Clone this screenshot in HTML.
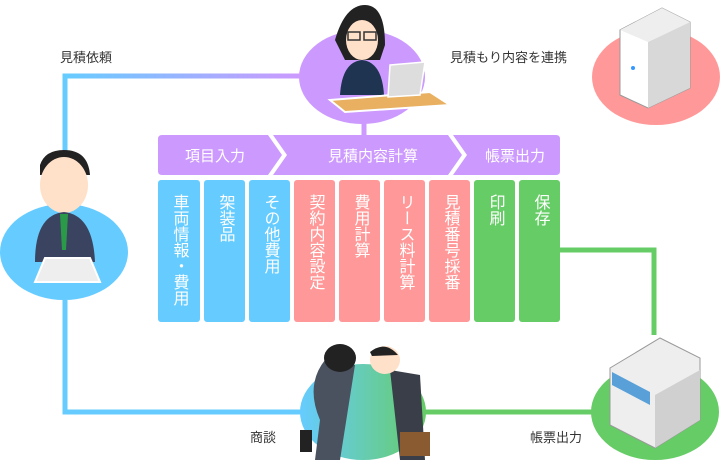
<!DOCTYPE html>
<html><head><meta charset="utf-8"><style>
html,body{margin:0;padding:0;background:#fff;}
svg{display:block;font-family:"Liberation Sans","Noto Sans CJK JP",sans-serif;}
</style></head><body>
<svg width="720" height="474" viewBox="0 0 720 474" xmlns="http://www.w3.org/2000/svg">
<defs>
<linearGradient id="g1" x1="0" x2="1"><stop offset="0" stop-color="#66ccff"/><stop offset="1" stop-color="#cc99ff"/></linearGradient>
<linearGradient id="g2" x1="0" x2="1"><stop offset="0" stop-color="#cc99ff"/><stop offset="1" stop-color="#ff9999"/></linearGradient>
<linearGradient id="g3" x1="0" x2="1"><stop offset="0" stop-color="#66ccff"/><stop offset="1" stop-color="#66cc66"/></linearGradient>
</defs>
<path d="M65 205 V76 H300" fill="none" stroke="url(#g1)" stroke-width="5"/>
<path d="M425 76 H600" fill="none" stroke="url(#g2)" stroke-width="5"/>
<path d="M65 300 V412 H305" fill="none" stroke="#66ccff" stroke-width="5"/>
<path d="M420 412 H600" fill="none" stroke="#66cc66" stroke-width="5"/>
<path d="M560 250 H654 V335" fill="none" stroke="#66cc66" stroke-width="5"/>
<path d="M364 120 V135" fill="none" stroke="#cc99ff" stroke-width="5"/>
<ellipse cx="362" cy="77" rx="63" ry="47" fill="#cc99ff"/>
<ellipse cx="656" cy="77" rx="64" ry="48" fill="#ff9999"/>
<ellipse cx="64" cy="252" rx="64" ry="48" fill="#66ccff"/>
<ellipse cx="655" cy="412" rx="64" ry="48" fill="#66cc66"/>
<ellipse cx="363" cy="412" rx="63" ry="48" fill="url(#g3)"/>
<path d="M620 30 L662 8 L690 22 L690 88 L648 108 L620 95 Z" fill="#fff" stroke="#999" stroke-width="1"/>
<path d="M648 42 L690 22 L690 88 L648 108 Z" fill="#d8d8d8"/>
<path d="M620 30 L662 8 L690 22 L648 42 Z" fill="#eee"/>
<circle cx="633" cy="68" r="2" fill="#39f"/>
<path d="M610 368 L660 338 L700 358 L700 420 L655 448 L610 425 Z" fill="#eee" stroke="#999"/>
<path d="M612 372 L650 392 L650 405 L612 385 Z" fill="#5aa0d8"/>
<path d="M655 395 L700 370 L700 420 L655 448 Z" fill="#d0d0d0"/>
<path d="M335 40 Q345 5 365 5 Q385 5 385 45 L380 60 L345 60 Z" fill="#222"/>
<ellipse cx="362" cy="40" rx="16" ry="20" fill="#ffe0c8"/>
<rect x="348" y="32" width="12" height="8" fill="none" stroke="#333" stroke-width="1.5"/>
<rect x="364" y="32" width="12" height="8" fill="none" stroke="#333" stroke-width="1.5"/>
<path d="M340 95 Q342 62 362 60 Q382 62 384 95 Z" fill="#1e3450"/>
<path d="M330 100 L430 92 L450 105 L345 112 Z" fill="#e8b060" stroke="#fff" stroke-width="2"/>
<path d="M390 65 L425 62 L420 95 L388 97 Z" fill="#ddd" stroke="#fff" stroke-width="1.5"/>
<path d="M40 165 Q45 150 64 150 Q88 150 90 175 L40 175 Z" fill="#222"/>
<ellipse cx="64" cy="185" rx="24" ry="28" fill="#ffe0c8"/>
<path d="M35 262 Q35 215 64 212 Q93 215 95 262 Z" fill="#3a4460"/>
<path d="M60 214 L68 214 L66 250 L62 250 Z" fill="#2a9a48"/>
<path d="M35 282 L45 258 L90 258 L100 282 Z" fill="#eee" stroke="#fff" stroke-width="2"/>
<path d="M320 420 Q305 385 325 360 L355 365 L340 460 L315 460 Z" fill="#4a5260"/>
<ellipse cx="340" cy="358" rx="16" ry="14" fill="#222"/>
<path d="M390 370 L420 375 L425 460 L400 460 Z" fill="#3a3e48"/>
<ellipse cx="385" cy="360" rx="15" ry="14" fill="#ffe0c8"/>
<path d="M370 352 Q385 340 398 355 L372 356 Z" fill="#222"/>
<rect x="400" y="432" width="30" height="24" fill="#8a5a30"/>
<rect x="300" y="430" width="12" height="22" fill="#222"/>
<path d="M162 135 H268 L282 155 L268 175 H162 Q158 175 158 171 V139 Q158 135 162 135 Z" fill="#cc99ff"/>
<path d="M273 135 H448 L462 155 L448 175 H273 L287 155 Z" fill="#cc99ff"/>
<path d="M453 135 H556 Q560 135 560 139 V171 Q560 175 556 175 H453 L467 155 Z" fill="#cc99ff"/>
<g fill="#fff" font-size="15" text-anchor="middle">
<text x="215" y="161">項目入力</text>
<text x="373" y="161">見積内容計算</text>
<text x="515" y="161">帳票出力</text>
</g>
<g>
<rect x="158" y="180" width="42" height="142" rx="3" fill="#66ccff"/>
<rect x="204" y="180" width="41" height="142" rx="3" fill="#66ccff"/>
<rect x="249" y="180" width="41" height="142" rx="3" fill="#66ccff"/>
<rect x="294" y="180" width="41" height="142" rx="3" fill="#ff9999"/>
<rect x="339" y="180" width="41" height="142" rx="3" fill="#ff9999"/>
<rect x="384" y="180" width="41" height="142" rx="3" fill="#ff9999"/>
<rect x="429" y="180" width="41" height="142" rx="3" fill="#ff9999"/>
<rect x="474" y="180" width="41" height="142" rx="3" fill="#66cc66"/>
<rect x="519" y="180" width="41" height="142" rx="3" fill="#66cc66"/>
</g>
<g fill="#fff" font-size="16" style="writing-mode:vertical-rl">
<text x="179" y="194">車両情報・費用</text>
<text x="225" y="194">架装品</text>
<text x="270" y="194">その他費用</text>
<text x="315" y="194">契約内容設定</text>
<text x="360" y="194">費用計算</text>
<text x="405" y="194">リース料計算</text>
<text x="450" y="194">見積番号採番</text>
<text x="495" y="194">印刷</text>
<text x="540" y="194">保存</text>
</g>
<g fill="#333" font-size="13">
<text x="60" y="62">見積依頼</text>
<text x="450" y="62">見積もり内容を連携</text>
<text x="250" y="442">商談</text>
<text x="530" y="442">帳票出力</text>
</g>
</svg>
</body></html>
